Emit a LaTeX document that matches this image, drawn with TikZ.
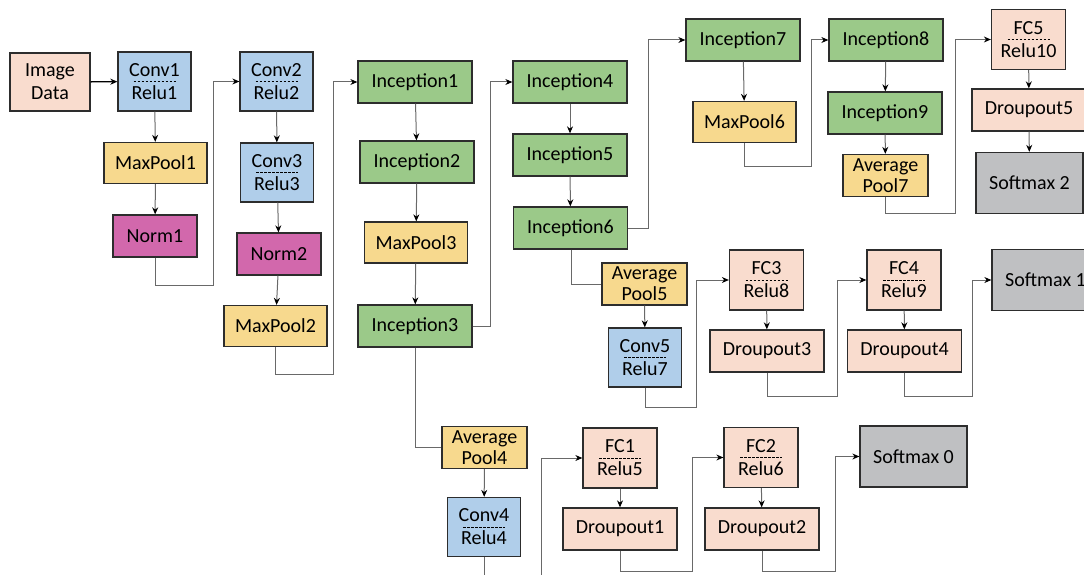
\documentclass[tikz,border=0pt]{standalone}
\usepackage{fontspec}
\setmainfont{Carlito}
\usepackage{xcolor}
\usepackage{tikz}
\usetikzlibrary{arrows.meta}
\definecolor{peach}{RGB}{249,220,206}
\definecolor{convblue}{RGB}{176,206,234}
\definecolor{poolyellow}{RGB}{247,217,142}
\definecolor{incgreen}{RGB}{155,201,137}
\definecolor{normpink}{RGB}{210,104,172}
\definecolor{softgray}{RGB}{191,192,194}
\definecolor{edge}{RGB}{45,45,45}
\definecolor{wire}{RGB}{105,105,105}

\begin{document}
\begin{tikzpicture}[
    x=1pt, y=-1pt,
    box/.style={draw=edge, line width=1.3pt, inner sep=0pt, align=center, text centered, font=\fontsize{20}{23}\selectfont},
    input/.style={box, fill=peach, minimum width=80pt, minimum height=58pt},
    conv/.style={box, fill=convblue, minimum width=73pt, minimum height=59pt},
    pool/.style={box, fill=poolyellow, minimum width=103pt, minimum height=41pt},
    avgpool/.style={box, fill=poolyellow, minimum width=85pt, minimum height=42pt, font=\fontsize{20}{21}\selectfont},
    norm/.style={box, fill=normpink, minimum width=84pt, minimum height=42pt},
    incep/.style={box, fill=incgreen, minimum width=114pt, minimum height=42pt},
    fc/.style={box, fill=peach, minimum width=74pt, minimum height=60pt},
    drop/.style={box, fill=peach, minimum width=114pt, minimum height=42pt},
    soft/.style={box, fill=softgray, minimum width=107pt, minimum height=61pt},
    link/.style={draw=wire, line width=1pt, -{Stealth[length=7pt,width=6pt,color=black]}},
    plain/.style={draw=wire, line width=1pt},
    sepline/.style={draw=black, line width=0.8pt, dash pattern=on 2.5pt off 1.5pt}
]
\useasboundingbox (0,0) rectangle (1084,575);
\clip (0,0) rectangle (1084,575);

% stem
\node[input] (img) at (50,82) {Image\\Data};
\node[conv] (c1) at (154.5,81.5) {Conv1\\Relu1};
\node[pool] (mp1) at (155.5,163) {MaxPool1};
\node[norm] (n1) at (155,236) {Norm1};
\node[conv] (c2) at (276.5,81.5) {Conv2\\Relu2};
\node[conv] (c3) at (277,172.5) {Conv3\\Relu3};
\node[norm] (n2) at (279,254) {Norm2};
\node[pool] (mp2) at (275.5,326) {MaxPool2};

% inception blocks
\node[incep] (i1) at (415,82) {Inception1};
\node[incep] (i2) at (417,162) {Inception2};
\node[pool] (mp3) at (416,242.5) {MaxPool3};
\node[incep] (i3) at (415,326) {Inception3};
\node[incep] (i4) at (570,82) {Inception4};
\node[incep] (i5) at (570,155) {Inception5};
\node[incep] (i6) at (570.5,228) {Inception6};
\node[incep] (i7) at (743,40) {Inception7};
\node[pool] (mp6) at (744.5,122) {MaxPool6};
\node[incep] (i8) at (886,40) {Inception8};
\node[incep] (i9) at (885,113) {Inception9};
\node[avgpool] (ap7) at (885.5,175.5) {Average\\Pool7};

% main classifier
\node[fc] (fc5) at (1028.5,39.5) {FC5\\Relu10};
\node[drop] (d5) at (1029,110) {Droupout5};
\node[soft] (sm2) at (1029.5,183) {Softmax 2};

% auxiliary classifier 1
\node[avgpool] (ap5) at (644.5,284) {Average\\Pool5};
\node[conv] (c5) at (645,357.5) {Conv5\\Relu7};
\node[fc] (fc3) at (766.5,280) {FC3\\Relu8};
\node[drop] (d3) at (767,351) {Droupout3};
\node[fc] (fc4) at (904,280) {FC4\\Relu9};
\node[drop] (d4) at (904.5,351) {Droupout4};
\node[soft] (sm1) at (1045.5,280) {Softmax 1};

% auxiliary classifier 0
\node[avgpool] (ap4) at (484.5,447.5) {Average\\Pool4};
\node[conv] (c4) at (484,527) {Conv4\\Relu4};
\node[fc] (fc1) at (620,458) {FC1\\Relu5};
\node[drop] (d1) at (620,529) {Droupout1};
\node[fc] (fc2) at (761,457.5) {FC2\\Relu6};
\node[drop] (d2) at (762,529) {Droupout2};
\node[soft] (sm0) at (913.5,456.5) {Softmax 0};

% dashed separators
\foreach \n in {c1,c2,c3,c4,c5,fc1,fc2,fc3,fc4,fc5}
    \draw[sepline] ([xshift=-21pt]\n.center) -- ([xshift=21pt]\n.center);

% connectors
\draw[link, draw=black, line width=1.4pt] (img) -- (c1);
\draw[link] (c1) -- (mp1);
\draw[link] (mp1) -- (n1);
\draw[link] (n1.south) |- (213,285) |- (c2.west);
\draw[link] (c2) -- (c3);
\draw[link] (c3) -- (n2);
\draw[link] (n2) -- (mp2);
\draw[link] (mp2.south) |- (333,374) |- (i1.west);
\draw[link] (i1) -- (i2);
\draw[link] (i2) -- (mp3);
\draw[link] (mp3) -- (i3);
\draw[link] (i3.east) -| (490,82) -- (i4.west);
\draw[link] (i4) -- (i5);
\draw[link] (i5) -- (i6);
\draw[link] (i6.east) -| (648,40) -- (i7.west);
\draw[link] (i7) -- (mp6);
\draw[link] (mp6.south) |- (811,166) |- (i8.west);
\draw[link] (i8) -- (i9);
\draw[link] (i9) -- (ap7);
\draw[link] (ap7.south) |- (955,213) |- (fc5.west);
\draw[link] (fc5) -- (d5);
\draw[link] (d5) -- (sm2);

\draw[plain] (i6.south -| 571,0) |- (ap5.west);
\draw[link] (ap5) -- (c5);
\draw[link] (c5.south) |- (696,407) |- (fc3.west);
\draw[link] (fc3) -- (d3);
\draw[link] (d3.south) |- (837,396) |- (fc4.west);
\draw[link] (fc4) -- (d4);
\draw[link] (d4.south) |- (972,396) |- (sm1.west);

\draw[plain] (i3.south) |- (ap4.west);
\draw[link] (ap4) -- (c4);
\draw[link] (c4.south) |- (541,600) |- (fc1.west);
\draw[link] (fc1) -- (d1);
\draw[link] (d1.south) |- (692,571) |- (fc2.west);
\draw[link] (fc2) -- (d2);
\draw[link] (d2.south) |- (835,571) |- (sm0.west);

\end{tikzpicture}
\end{document}
